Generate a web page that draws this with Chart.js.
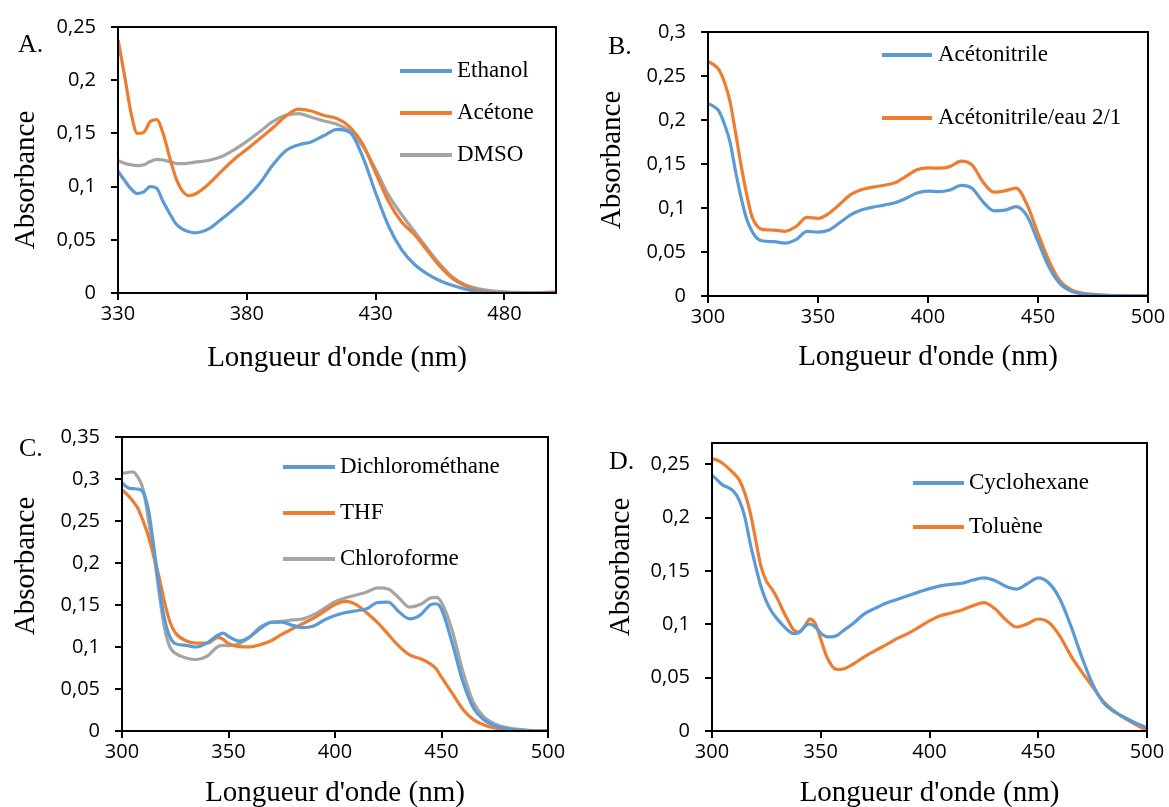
<!DOCTYPE html>
<html>
<head>
<meta charset="utf-8">
<script src="https://cdn.jsdelivr.net/npm/chart.js@4.4.1/dist/chart.umd.min.js"></script>
<style>
  html, body { margin: 0; padding: 0; background: #fff; }
  body { width: 1169px; height: 807px; position: relative; overflow: hidden; }
  canvas { position: absolute; }
</style>
</head>
<body>
<canvas id="chart-a" width="585" height="400" style="left:0;top:0"></canvas>
<canvas id="chart-b" width="584" height="400" style="left:585px;top:0"></canvas>
<canvas id="chart-c" width="585" height="407" style="left:0;top:400px"></canvas>
<canvas id="chart-d" width="584" height="407" style="left:585px;top:400px"></canvas>
<script>
// ---- data ----
const xTitle = "Longueur d'onde (nm)";
const yTitle = 'Absorbance';
const colors = ['#5B9BD5', '#ED7D31', '#A5A5A5'];

// A.
const wlA = [330, 332.5, 335, 337.5, 340, 342.5, 345, 347.5, 350, 352.5, 355, 357.5, 360, 365, 370, 375, 380, 385, 390, 395, 400, 405, 410, 415, 420, 425, 430, 435, 440, 445, 450, 455, 460, 465, 470, 475, 480, 490, 500];
const ethanol = [0.1145, 0.106, 0.098, 0.0935, 0.095, 0.1, 0.0985, 0.086, 0.075, 0.065, 0.06, 0.0575, 0.0566, 0.06, 0.069, 0.079, 0.0897, 0.103, 0.12, 0.1335, 0.1392, 0.142, 0.148, 0.1537, 0.151, 0.128, 0.094, 0.063, 0.041, 0.027, 0.018, 0.0115, 0.007, 0.0035, 0.001, 0, 0, 0, 0];
const acetone = [0.238, 0.205, 0.17, 0.15, 0.151, 0.161, 0.163, 0.15, 0.128, 0.108, 0.096, 0.0915, 0.093, 0.102, 0.114, 0.1255, 0.135, 0.145, 0.155, 0.166, 0.1728, 0.171, 0.1668, 0.164, 0.156, 0.14, 0.113, 0.086, 0.067, 0.055, 0.04, 0.025, 0.0135, 0.0065, 0.0025, 0.0005, 0, 0, 0.001];
const dmso = [0.1244, 0.122, 0.1205, 0.1197, 0.1205, 0.1235, 0.1255, 0.125, 0.1235, 0.1218, 0.1215, 0.122, 0.123, 0.1245, 0.128, 0.1345, 0.1425, 0.1515, 0.161, 0.167, 0.1685, 0.1652, 0.1617, 0.1585, 0.152, 0.138, 0.116, 0.092, 0.074, 0.058, 0.042, 0.027, 0.0145, 0.0075, 0.004, 0.002, 0.001, 0, 0];
const xTicksA = [330, 380, 430, 480];
const yTicksA = [0, 0.05, 0.1, 0.15, 0.2, 0.25];

// B.
const wlB = [300, 302.5, 305, 307.5, 310, 312.5, 315, 317.5, 320, 322.5, 325, 330, 335, 340, 345, 350, 355, 360, 365, 370, 375, 380, 385, 390, 395, 400, 405, 410, 415, 420, 425, 430, 435, 440, 445, 450, 455, 460, 465, 470, 480, 490, 500];
const acetonitrile = [0.2187, 0.2155, 0.21, 0.195, 0.175, 0.142, 0.112, 0.088, 0.0735, 0.065, 0.0625, 0.0617, 0.06, 0.064, 0.0735, 0.0725, 0.075, 0.0835, 0.0925, 0.098, 0.101, 0.1033, 0.106, 0.111, 0.117, 0.1192, 0.1185, 0.1205, 0.1257, 0.1225, 0.107, 0.0968, 0.0975, 0.1015, 0.091, 0.062, 0.033, 0.014, 0.0055, 0.0025, 0.0008, 0.0003, 0];
const acetonitrileEau = [0.2667, 0.263, 0.257, 0.243, 0.221, 0.186, 0.149, 0.1165, 0.09, 0.079, 0.0755, 0.0749, 0.0735, 0.079, 0.0893, 0.0882, 0.094, 0.1045, 0.1155, 0.121, 0.1237, 0.1258, 0.1286, 0.136, 0.1435, 0.1455, 0.1452, 0.147, 0.1533, 0.149, 0.1295, 0.118, 0.1195, 0.1225, 0.104, 0.071, 0.04, 0.017, 0.0072, 0.0032, 0.0011, 0.0004, 0];
const xTicksB = [300, 350, 400, 450, 500];
const yTicksB = [0, 0.05, 0.1, 0.15, 0.2, 0.25, 0.3];

// C.
const wlC = [300, 302.5, 305, 307.5, 310, 312.5, 315, 317.5, 320, 322.5, 325, 330, 335, 340, 345, 347.5, 350, 355, 360, 365, 370, 375, 380, 385, 390, 395, 400, 405, 410, 415, 420, 425, 430, 435, 440, 445, 447.5, 450, 455, 460, 465, 470, 475, 480, 490, 500];
const dichloromethane = [0.2956, 0.29, 0.2885, 0.288, 0.284, 0.262, 0.218, 0.17, 0.133, 0.112, 0.104, 0.102, 0.1, 0.105, 0.114, 0.1165, 0.1125, 0.107, 0.112, 0.122, 0.1293, 0.1295, 0.1258, 0.123, 0.125, 0.1322, 0.1375, 0.141, 0.1432, 0.1455, 0.153, 0.1535, 0.142, 0.1335, 0.138, 0.1505, 0.1515, 0.145, 0.105, 0.059, 0.0275, 0.013, 0.0062, 0.0028, 0.0003, 0];
const thf = [0.287, 0.2815, 0.274, 0.265, 0.2495, 0.231, 0.207, 0.182, 0.153, 0.13, 0.117, 0.1075, 0.1045, 0.1045, 0.1115, 0.109, 0.104, 0.1005, 0.1002, 0.1028, 0.1075, 0.115, 0.1215, 0.128, 0.1345, 0.1425, 0.1505, 0.1542, 0.1505, 0.1405, 0.129, 0.115, 0.101, 0.0905, 0.0862, 0.0795, 0.074, 0.064, 0.045, 0.026, 0.0135, 0.0072, 0.0035, 0.0018, 0.0004, 0];
const chloroforme = [0.3068, 0.3076, 0.3085, 0.302, 0.287, 0.25, 0.21, 0.163, 0.122, 0.1, 0.0925, 0.087, 0.0851, 0.089, 0.1005, 0.102, 0.1015, 0.104, 0.112, 0.124, 0.1295, 0.1305, 0.1322, 0.1335, 0.1385, 0.146, 0.154, 0.1585, 0.162, 0.1655, 0.1705, 0.169, 0.1585, 0.1475, 0.1505, 0.1585, 0.159, 0.153, 0.12, 0.0711, 0.034, 0.0165, 0.0085, 0.0045, 0.0012, 0];
const xTicksC = [300, 350, 400, 450, 500];
const yTicksC = [0, 0.05, 0.1, 0.15, 0.2, 0.25, 0.3, 0.35];

// D.
const wlD = [300, 302.5, 305, 307.5, 310, 312.5, 315, 317.5, 320, 322.5, 325, 327.5, 330, 332.5, 335, 337.5, 340, 342.5, 345, 347.5, 350, 352.5, 355, 357.5, 360, 365, 370, 375, 380, 385, 390, 395, 400, 405, 410, 415, 420, 425, 430, 435, 440, 445, 450, 455, 460, 465, 470, 475, 480, 485, 490, 495, 500];
const cyclohexane = [0.2397, 0.2352, 0.2305, 0.2282, 0.2245, 0.2165, 0.2015, 0.1765, 0.155, 0.1355, 0.1215, 0.1118, 0.105, 0.0993, 0.0942, 0.0912, 0.0922, 0.0978, 0.1003, 0.0975, 0.0918, 0.0885, 0.0883, 0.0895, 0.0935, 0.101, 0.1098, 0.115, 0.1197, 0.1233, 0.1268, 0.1302, 0.1335, 0.136, 0.1375, 0.1385, 0.1415, 0.1436, 0.1412, 0.1358, 0.1331, 0.138, 0.1435, 0.1385, 0.1235, 0.0985, 0.0695, 0.0438, 0.0265, 0.018, 0.0125, 0.0072, 0.0031];
const toluene = [0.2553, 0.2538, 0.2508, 0.2465, 0.2415, 0.2355, 0.2235, 0.2055, 0.18, 0.1545, 0.1405, 0.1333, 0.1245, 0.1135, 0.1035, 0.0948, 0.0928, 0.0978, 0.1048, 0.1005, 0.086, 0.071, 0.0615, 0.0578, 0.058, 0.0628, 0.0695, 0.0753, 0.0808, 0.0866, 0.0913, 0.0972, 0.1033, 0.108, 0.1107, 0.1135, 0.1175, 0.1203, 0.1148, 0.1045, 0.0975, 0.1005, 0.105, 0.1015, 0.0888, 0.0705, 0.0555, 0.0415, 0.0275, 0.0185, 0.0115, 0.0058, 0.0006];
const xTicksD = [300, 350, 400, 450, 500];
const yTicksD = [0, 0.05, 0.1, 0.15, 0.2, 0.25];

// ---- drawing ----
const serif = '"Liberation Serif", "Times New Roman", serif';
const sans = '"Open Sans", "Liberation Sans", sans-serif';

function fmt(v) {
  return v === 0 ? '0' : String(+v.toFixed(2)).replace('.', ',');
}

// panel letter, axis titles, legend and plot frame
const panelText = {
  id: 'panelText',
  afterDraw(chart, args, o) {
    const ctx = chart.ctx;
    const a = chart.chartArea;
    ctx.save();
    ctx.strokeStyle = '#000';
    ctx.lineWidth = 2;
    ctx.strokeRect(a.left, a.top, a.right - a.left, a.bottom - a.top);

    ctx.fillStyle = '#000';
    ctx.textBaseline = 'middle';
    ctx.font = '26px ' + serif;
    ctx.textAlign = 'left';
    ctx.fillText(o.letter, o.letterPos[0], o.letterPos[1]);

    ctx.font = '29px ' + serif;
    ctx.textAlign = 'center';
    ctx.fillText(xTitle, (a.left + a.right) / 2, o.xTitleY);
    ctx.save();
    ctx.translate(o.yTitlePos[0], o.yTitlePos[1]);
    ctx.rotate(-Math.PI / 2);
    ctx.fillText(yTitle, 0, 0);
    ctx.restore();

    ctx.font = '23px ' + serif;
    ctx.textAlign = 'left';
    chart.data.datasets.forEach((ds, i) => {
      const y = o.legend.ys[i];
      ctx.strokeStyle = ds.borderColor;
      ctx.lineWidth = 4;
      ctx.beginPath();
      ctx.moveTo(o.legend.x1, y);
      ctx.lineTo(o.legend.x2, y);
      ctx.stroke();
      ctx.fillText(ds.label, o.legend.tx, y);
    });
    ctx.restore();
  }
};

function makeChart(id, wl, series, labels, xTicks, yTicks, xMin, xMax, yMax, box, text) {
  const tickFont = { family: sans, size: 20 };
  return new Chart(document.getElementById(id), {
    type: 'line',
    data: {
      datasets: series.map((s, i) => ({
        label: labels[i],
        data: wl.map((x, j) => ({ x, y: s[j] })),
        borderColor: colors[i],
        borderWidth: 3.2,
        pointRadius: 0,
        fill: false,
        cubicInterpolationMode: 'monotone'
      }))
    },
    options: {
      responsive: false,
      animation: false,
      devicePixelRatio: 1,
      layout: { padding: { top: box.top, right: box.right, left: 0, bottom: 0 } },
      plugins: {
        legend: { display: false },
        tooltip: { enabled: false },
        panelText: text
      },
      scales: {
        x: {
          type: 'linear',
          min: xMin,
          max: xMax,
          afterBuildTicks: s => { s.ticks = xTicks.map(v => ({ value: v })); },
          afterFit: s => { s.height = box.xh; },
          ticks: { color: '#000', font: tickFont, padding: 2, maxRotation: 0, callback: v => String(v) },
          grid: { display: true, drawOnChartArea: false, drawTicks: true, tickLength: 7, color: '#000', lineWidth: 2 },
          border: { display: true, color: '#000', width: 2 }
        },
        y: {
          type: 'linear',
          min: 0,
          max: yMax,
          afterBuildTicks: s => { s.ticks = yTicks.map(v => ({ value: v })); },
          afterFit: s => { s.width = box.yw; },
          ticks: { color: '#000', font: tickFont, padding: 15, callback: v => fmt(v) },
          grid: { display: true, drawOnChartArea: false, drawTicks: true, tickLength: 7, color: '#000', lineWidth: 2 },
          border: { display: true, color: '#000', width: 2 }
        }
      }
    },
    plugins: [panelText]
  });
}

makeChart('chart-a', wlA, [ethanol, acetone, dmso], ['Ethanol', 'Acétone', 'DMSO'],
  xTicksA, yTicksA, 330, 500, 0.25,
  { top: 24, right: 29, yw: 118, xh: 107 },
  { letter: 'A.', letterPos: [18, 45], xTitleY: 358, yTitlePos: [26, 180],
    legend: { x1: 400, x2: 452, tx: 457, ys: [71, 113, 155] } });

makeChart('chart-b', wlB, [acetonitrile, acetonitrileEau], ['Acétonitrile', 'Acétonitrile/eau 2/1'],
  xTicksB, yTicksB, 300, 500, 0.3,
  { top: 32, right: 21, yw: 123, xh: 104 },
  { letter: 'B.', letterPos: [23, 47], xTitleY: 357, yTitlePos: [27, 160],
    legend: { x1: 297, x2: 347, tx: 353, ys: [55, 118] } });

makeChart('chart-c', wlC, [dichloromethane, thf, chloroforme], ['Dichlorométhane', 'THF', 'Chloroforme'],
  xTicksC, yTicksC, 300, 500, 0.35,
  { top: 37, right: 37, yw: 122, xh: 76 },
  { letter: 'C.', letterPos: [19, 49], xTitleY: 393, yTitlePos: [26, 166],
    legend: { x1: 283, x2: 335, tx: 340, ys: [67, 113, 159] } });

makeChart('chart-d', wlD, [cyclohexane, toluene], ['Cyclohexane', 'Toluène'],
  xTicksD, yTicksD, 300, 500, 0.27,
  { top: 43, right: 22, yw: 127, xh: 76 },
  { letter: 'D.', letterPos: [24, 62], xTitleY: 393, yTitlePos: [36, 167],
    legend: { x1: 328, x2: 379, tx: 384, ys: [83, 127] } });
</script>
</body>
</html>
